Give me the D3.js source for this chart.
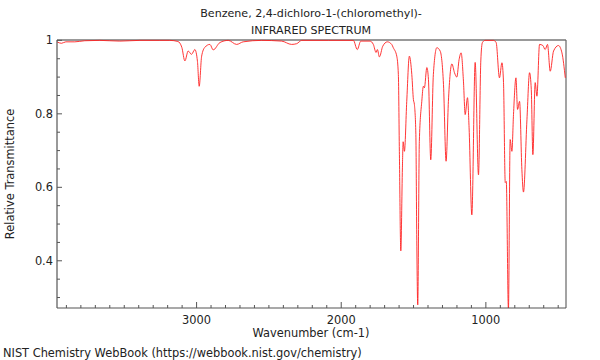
<!DOCTYPE html>
<html>
<head>
<meta charset="utf-8">
<script src="https://cdn.jsdelivr.net/npm/d3@7"></script>
<style>
  body { margin: 0; background: #fff; }
  svg { font-family: "DejaVu Sans", sans-serif; }
</style>
</head>
<body>
<svg width="600" height="360"></svg>
<script>
// spectrum (cm-1, relative transmittance)
const wavenumber = [3965, 3934, 3904, 3842, 3773, 3669, 3600, 3531, 3392, 3254, 3185, 3129, 3102, 3081, 3058, 3035, 3012, 2994, 2982, 2965, 2943, 2908, 2885, 2839, 2781, 2723, 2678, 2550, 2412, 2343, 2308, 2273, 2089, 1974, 1916, 1889, 1865, 1801, 1778, 1759, 1750, 1736, 1713, 1681, 1651, 1640, 1616, 1605, 1598, 1588, 1577, 1572, 1563, 1547, 1529, 1512, 1501, 1494, 1484, 1478, 1471, 1460, 1443, 1432, 1425, 1408, 1397, 1381, 1363, 1339, 1316, 1293, 1275, 1259, 1235, 1217, 1201, 1185, 1171, 1155, 1143, 1127, 1116, 1097, 1074, 1051, 1035, 1024, 1005, 947, 929, 906, 889, 878, 866, 859, 844, 832, 820, 809, 792, 781, 767, 751, 740, 716, 698, 686, 675, 659, 647, 629, 606, 590, 574, 555, 532, 498, 474, 451];
const transmittance = [0.996, 0.992, 0.996, 0.996, 0.999, 1.0, 0.999, 0.998, 1.0, 1.0, 1.0, 0.997, 0.981, 0.944, 0.971, 0.962, 0.975, 0.943, 0.875, 0.957, 0.981, 0.989, 0.974, 0.994, 1.0, 0.989, 0.996, 1.0, 0.998, 0.989, 0.991, 1.0, 1.0, 1.0, 1.0, 0.975, 0.998, 0.998, 0.989, 0.967, 0.975, 0.955, 0.984, 0.996, 0.989, 0.98, 0.957, 0.907, 0.698, 0.427, 0.653, 0.724, 0.698, 0.834, 0.957, 0.907, 0.839, 0.825, 0.744, 0.471, 0.28, 0.725, 0.834, 0.875, 0.871, 0.926, 0.894, 0.675, 0.907, 0.98, 0.971, 0.88, 0.671, 0.834, 0.936, 0.912, 0.9, 0.948, 0.966, 0.889, 0.798, 0.844, 0.762, 0.525, 0.94, 0.634, 0.944, 0.994, 1.0, 1.0, 0.994, 0.898, 0.939, 0.885, 0.613, 0.616, 0.266, 0.73, 0.698, 0.798, 0.898, 0.812, 0.834, 0.648, 0.587, 0.784, 0.912, 0.866, 0.689, 0.885, 0.848, 0.989, 0.986, 0.975, 0.989, 0.916, 0.971, 0.986, 0.966, 0.898];

const xMajor = [3000, 2000, 1000];
const yMajor = [1, 0.8, 0.6, 0.4];
const yLabels = ["1", "0.8", "0.6", "0.4"];

const svg = d3.select("svg");
const plotLeft = 57, plotRight = 566, plotTop = 40, plotBottom = 308;
const fs = 11.4;

const x = d3.scaleLinear().domain([3965, 446]).range([plotLeft, plotRight]);
const y = d3.scaleLinear().domain([0.2715, 1.001]).range([plotBottom, plotTop]);

// minor ticks every 100 cm-1 and every 0.05
const xMinor = d3.range(500, 3965, 100).filter(v => !xMajor.includes(v));
const yMinor = d3.range(0.3, 1.0, 0.05).map(v => +v.toFixed(2)).filter(v => !yMajor.includes(v));

const axisColor = "#555";

// frame: top and right in grey, like the original
svg.append("line").attr("x1", plotLeft).attr("x2", plotRight).attr("y1", plotTop).attr("y2", plotTop)
  .attr("stroke", "#999").attr("stroke-width", 2);
svg.append("line").attr("x1", plotRight).attr("x2", plotRight).attr("y1", plotTop).attr("y2", plotBottom)
  .attr("stroke", "#666").attr("stroke-width", 1.2);

// clip the trace to the plot
svg.append("clipPath").attr("id", "plot")
  .append("rect").attr("x", plotLeft).attr("y", plotTop - 1)
  .attr("width", plotRight - plotLeft).attr("height", plotBottom - plotTop + 1);

const points = wavenumber.map((w, i) => [w, transmittance[i]]);
const line = d3.line().x(d => x(d[0])).y(d => y(d[1])).curve(d3.curveMonotoneX);

svg.append("path").datum(points)
  .attr("clip-path", "url(#plot)")
  .attr("d", line)
  .attr("fill", "none")
  .attr("stroke", "#ff2020")
  .attr("stroke-width", 0.9);

// bottom axis, ticks point up into the plot
const xAxis = svg.append("g").attr("transform", `translate(0,${plotBottom})`);
xAxis.append("line").attr("x1", plotLeft).attr("x2", plotRight).attr("stroke", axisColor).attr("stroke-width", 1.2);
xAxis.selectAll(".minor").data(xMinor).enter().append("line")
  .attr("x1", d => x(d)).attr("x2", d => x(d)).attr("y1", 0).attr("y2", -3)
  .attr("stroke", axisColor);
xAxis.selectAll(".major").data(xMajor).enter().append("line")
  .attr("x1", d => x(d)).attr("x2", d => x(d)).attr("y1", 0).attr("y2", -6)
  .attr("stroke", axisColor);
xAxis.selectAll("text").data(xMajor).enter().append("text")
  .attr("x", d => x(d)).attr("y", 16)
  .attr("text-anchor", "middle").attr("font-size", fs).attr("fill", "#222")
  .text(d => d);

// left axis, ticks point right into the plot
const yAxis = svg.append("g").attr("transform", `translate(${plotLeft},0)`);
yAxis.append("line").attr("y1", plotTop).attr("y2", plotBottom).attr("stroke", axisColor).attr("stroke-width", 1.2);
yAxis.selectAll(".minor").data(yMinor).enter().append("line")
  .attr("y1", d => y(d)).attr("y2", d => y(d)).attr("x1", 0).attr("x2", 3)
  .attr("stroke", axisColor);
yAxis.selectAll(".major").data(yMajor).enter().append("line")
  .attr("y1", d => y(d)).attr("y2", d => y(d)).attr("x1", 0).attr("x2", 5)
  .attr("stroke", axisColor);
yAxis.selectAll("text").data(yMajor).enter().append("text")
  .attr("x", -4).attr("y", d => y(d)).attr("dy", "0.35em")
  .attr("text-anchor", "end").attr("font-size", fs).attr("fill", "#222")
  .text((d, i) => yLabels[i]);

// titles and labels
svg.append("text").attr("x", 311).attr("y", 17).attr("text-anchor", "middle")
  .attr("font-size", 11.1).attr("fill", "#222").text("Benzene, 2,4-dichloro-1-(chloromethyl)-");
svg.append("text").attr("x", 311).attr("y", 34).attr("text-anchor", "middle")
  .attr("font-size", 11.1).attr("fill", "#222").text("INFRARED SPECTRUM");
svg.append("text").attr("x", 311).attr("y", 337).attr("text-anchor", "middle")
  .attr("font-size", fs).attr("fill", "#222").text("Wavenumber (cm-1)");
svg.append("text").attr("transform", "translate(14,174) rotate(-90)").attr("text-anchor", "middle")
  .attr("font-size", fs).attr("fill", "#222").text("Relative Transmittance");
svg.append("text").attr("x", 3).attr("y", 357)
  .attr("font-size", fs).attr("fill", "#222").text("NIST Chemistry WebBook (https://webbook.nist.gov/chemistry)");
</script>
</body>
</html>
